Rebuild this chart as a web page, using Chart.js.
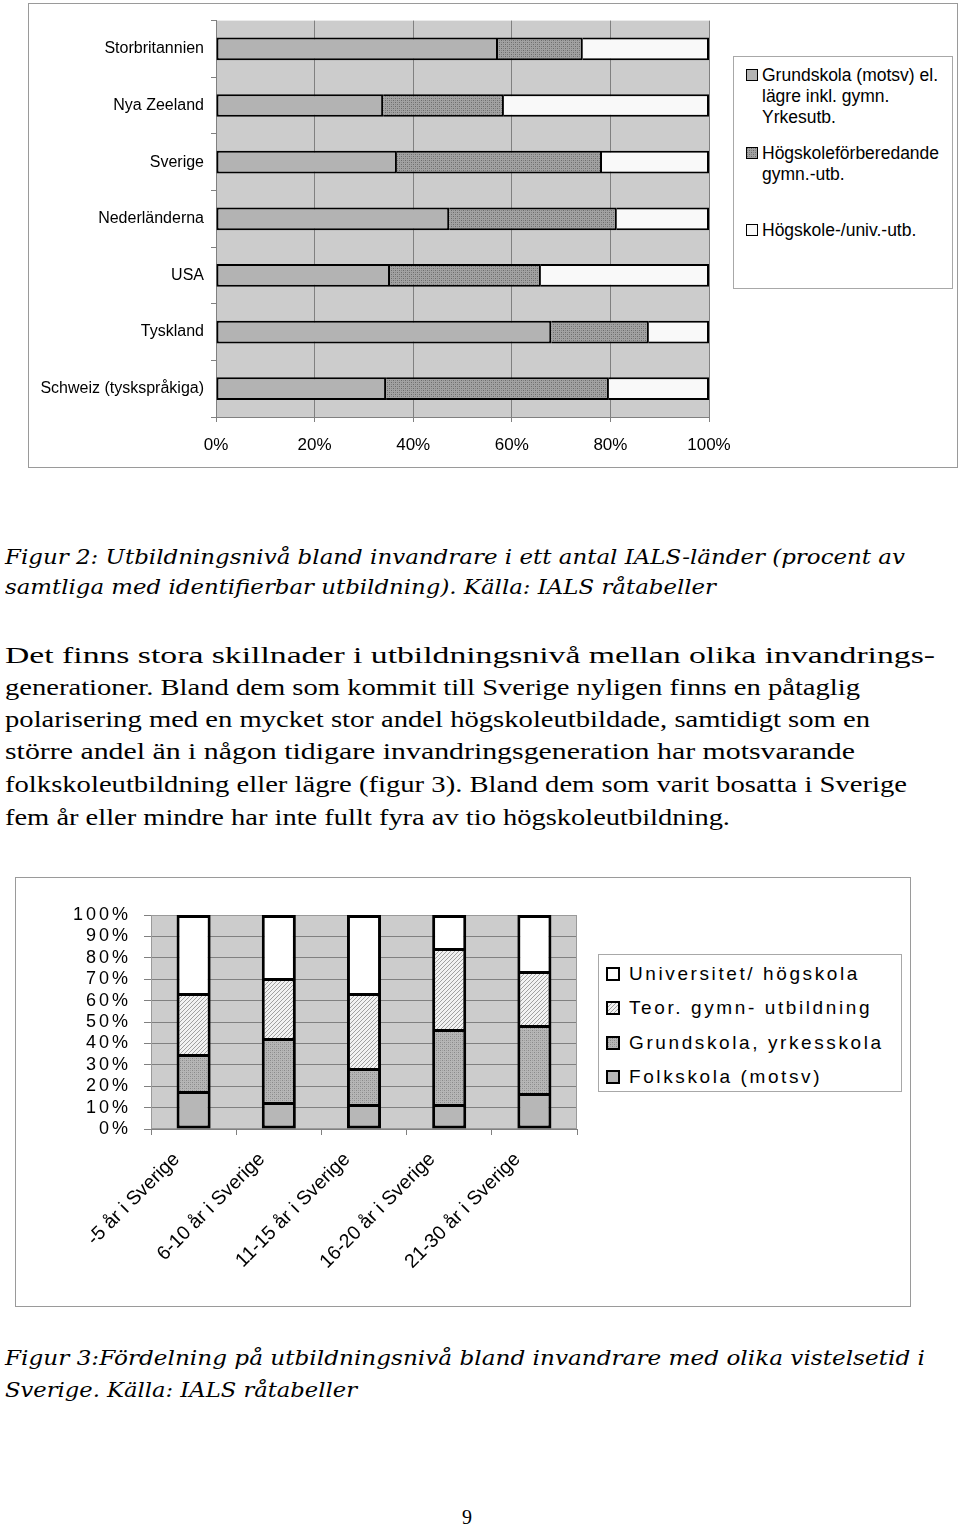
<!DOCTYPE html>
<html><head><meta charset="utf-8">
<script src="https://cdn.jsdelivr.net/npm/chart.js@4.4.1/dist/chart.umd.min.js"></script>
<style>
html,body{margin:0;padding:0;background:#fff;}
body{width:960px;height:1527px;position:relative;overflow:hidden;font-family:'Liberation Sans',Arial,sans-serif;color:#000;}
.frame{position:absolute;border:1px solid #9a9a9a;box-sizing:border-box;background:#fff;}
.frame canvas{position:absolute;left:0;top:0;}
.legend{position:absolute;border:1px solid #a8a8a8;box-sizing:border-box;background:#fff;}
.li{position:absolute;white-space:nowrap;}
.sw{position:absolute;box-sizing:border-box;border:1.5px solid #000;}
.tl{position:absolute;left:5px;white-space:nowrap;transform-origin:0 50%;}
.cap{font-family:'DejaVu Serif',serif;font-style:italic;font-size:20px;height:30px;line-height:30px;}
.txt{font-family:'Liberation Serif','Times New Roman',serif;font-size:23.5px;height:30px;line-height:30px;}
</style></head>
<body>
<div class="frame" id="f1" style="left:28px;top:3px;width:930px;height:465px;">
  <canvas id="c1" width="928" height="463" style="width:928px;height:463px"></canvas>
  <div class="legend" id="lg1" style="left:704px;top:52px;width:220px;height:233px;font-size:17.5px;line-height:21px;"></div>
</div>

<div class="tl cap" data-w="900" style="top:542px">Figur 2: Utbildningsnivå bland invandrare i ett antal IALS-länder (procent av</div>
<div class="tl cap" data-w="711" style="top:572px">samtliga med identifierbar utbildning). Källa: IALS råtabeller</div>

<div class="tl txt" data-w="930" style="top:640px">Det finns stora skillnader i utbildningsnivå mellan olika invandrings-</div>
<div class="tl txt" data-w="855" style="top:672px">generationer. Bland dem som kommit till Sverige nyligen finns en påtaglig</div>
<div class="tl txt" data-w="865" style="top:704px">polarisering med en mycket stor andel högskoleutbildade, samtidigt som en</div>
<div class="tl txt" data-w="850" style="top:736px">större andel än i någon tidigare invandringsgeneration har motsvarande</div>
<div class="tl txt" data-w="902" style="top:769px">folkskoleutbildning eller lägre (figur 3). Bland dem som varit bosatta i Sverige</div>
<div class="tl txt" data-w="725" style="top:802px">fem år eller mindre har inte fullt fyra av tio högskoleutbildning.</div>

<div class="frame" id="f2" style="left:15px;top:877px;width:896px;height:430px;">
  <canvas id="c2" width="894" height="428" style="width:894px;height:428px"></canvas>
  <div class="legend" id="lg2" style="left:582px;top:76px;width:304px;height:138px;font-size:19px;letter-spacing:2.6px;line-height:24px;"></div>
</div>

<div class="tl cap" data-w="920" style="top:1343px">Figur 3:Fördelning på utbildningsnivå bland invandrare med olika vistelsetid i</div>
<div class="tl cap" data-w="352" style="top:1375px">Sverige. Källa: IALS råtabeller</div>

<div style="position:absolute;left:0;width:934px;top:1504px;text-align:center;font-family:'Liberation Serif',serif;font-size:20px;line-height:26px;">9</div>

<script>
// ---------- Figure 2 data ----------
const countries = ['Storbritannien','Nya Zeeland','Sverige','Nederländerna','USA','Tyskland','Schweiz (tyskspråkiga)'];
const grundskolaTop = [57.2, 33.9, 36.7, 47.3, 35.3, 68.0, 34.5];
const hogskoleforb = [17.2, 24.5, 41.6, 34.0, 30.6, 19.8, 45.2];
const hogskoleUniv = [25.6, 41.6, 21.7, 18.7, 34.1, 12.2, 20.3];
const topTickLabels = ['0%','20%','40%','60%','80%','100%'];
const topSeriesNames = [['Grundskola (motsv) el.','lägre inkl. gymn.','Yrkesutb.'],['Högskoleförberedande','gymn.-utb.'],['Högskole-/univ.-utb.']];

// ---------- Figure 3 data ----------
const vistelse = ['-5 år i Sverige','6-10 år i Sverige','11-15 år i Sverige','16-20 år i Sverige','21-30 år i Sverige'];
const folkskola = [17.8, 12.6, 11.7, 11.7, 16.8];
const grundYrkes = [17.2, 29.9, 16.8, 35.0, 31.8];
const teorGymn = [28.5, 28.1, 35.0, 37.9, 25.2];
const universitet = [36.5, 29.4, 36.5, 15.4, 26.2];
const bottomTickLabels = ['0%','10%','20%','30%','40%','50%','60%','70%','80%','90%','100%'];
const bottomSeriesNames = ['Universitet/ högskola','Teor. gymn- utbildning','Grundskola, yrkesskola','Folkskola (motsv)'];

Chart.defaults.font.family = "'Liberation Sans', Arial, sans-serif";
Chart.defaults.color = '#000';
Chart.defaults.animation = false;

function makePattern(size, bg, draw){
  const c = document.createElement('canvas'); c.width = size; c.height = size;
  const x = c.getContext('2d'); x.fillStyle = bg; x.fillRect(0,0,size,size); draw(x); return c;
}
const stippleDark = makePattern(4, '#a2a2a2', x=>{x.fillStyle='#6c6c6c'; x.fillRect(0,0,1,1); x.fillRect(2,2,1,1); x.fillStyle='#858585'; x.fillRect(2,0,1,1); x.fillRect(0,2,1,1);});
const stippleMid = makePattern(4, '#b6b6b6', x=>{x.fillStyle='#8a8a8a'; x.fillRect(0,0,1,1); x.fillRect(2,2,1,1); x.fillStyle='#a0a0a0'; x.fillRect(2,0,1,1); x.fillRect(0,2,1,1);});
const hatch = makePattern(4, '#f2f2f2', x=>{x.fillStyle='#a0a0a0'; for(let i=0;i<4;i++){x.fillRect(i,3-i,1,1);} });
const ctxTmp = document.createElement('canvas').getContext('2d');
const patDark = ctxTmp.createPattern(stippleDark,'repeat');
const patMid = ctxTmp.createPattern(stippleMid,'repeat');
const patHatch = ctxTmp.createPattern(hatch,'repeat');

const plotBg = {
  id:'plotBg',
  beforeDraw(chart, args, opts){
    const {ctx, chartArea:a} = chart; ctx.save();
    ctx.fillStyle = opts.color; ctx.fillRect(a.left, a.top, a.right-a.left, a.bottom-a.top);
    ctx.restore();
  },
  beforeDatasetsDraw(chart, args, opts){
    if(!opts.border) return;
    const {ctx, chartArea:a} = chart; ctx.save();
    ctx.strokeStyle = opts.border; ctx.lineWidth = 1;
    ctx.strokeRect(a.left+0.5, a.top+0.5, a.right-a.left-1, a.bottom-a.top-1);
    ctx.restore();
  }
};

// ---------- Chart 1 ----------
const bw1 = 2;
new Chart(document.getElementById('c1'), {
  type:'bar',
  data:{labels:countries, datasets:[
    {label:topSeriesNames[0].join(' '), data:grundskolaTop, backgroundColor:'#b3b3b3', borderWidth:bw1},
    {label:topSeriesNames[1].join(' '), data:hogskoleforb, backgroundColor:patDark, borderWidth:{top:bw1,bottom:bw1,right:bw1,left:0}},
    {label:topSeriesNames[2].join(' '), data:hogskoleUniv, backgroundColor:'#f9f9f9', borderWidth:{top:bw1,bottom:bw1,right:bw1,left:0}}
  ].map(d=>Object.assign(d,{borderColor:'#000', borderSkipped:false, barPercentage:0.8, categoryPercentage:0.5}))},
  options:{
    indexAxis:'y', responsive:false, maintainAspectRatio:false,
    layout:{padding:{left:0, top:15, right:248, bottom:0}},
    plugins:{legend:{display:false}, tooltip:{enabled:false}, plotBg:{color:'#cccccc'}},
    scales:{
      x:{stacked:true, min:0, max:100,
         ticks:{stepSize:20, padding:13, font:{size:17}, callback:(v,i)=>topTickLabels[i]},
         grid:{color:'#808080', lineWidth:1, tickLength:5},
         border:{color:'#808080'},
         afterFit:s=>{s.height=50;}},
      y:{stacked:true,
         ticks:{padding:7, font:{size:16}},
         grid:{drawOnChartArea:false, color:'#808080', tickLength:5},
         border:{color:'#808080'},
         afterFit:s=>{s.width=187;}}
    }
  },
  plugins:[plotBg]
});

// ---------- Chart 2 ----------
const yLabelPlugin = {
  id:'yLabelPlugin',
  afterDraw(chart){
    const ctx = chart.ctx, ys = chart.scales.y;
    ctx.save();
    ctx.font = "18px 'Liberation Sans', Arial, sans-serif";
    ctx.letterSpacing = '3px';
    ctx.fillStyle = '#000'; ctx.textAlign = 'right'; ctx.textBaseline = 'middle';
    ys.ticks.forEach((t,i)=>{ ctx.fillText(bottomTickLabels[i], chart.chartArea.left - 20, ys.getPixelForValue(t.value)); });
    ctx.restore();
  }
};
const bw2 = 3;
new Chart(document.getElementById('c2'), {
  type:'bar',
  data:{labels:vistelse, datasets:[
    {label:bottomSeriesNames[3], data:folkskola, backgroundColor:'#b7b7b7', borderWidth:bw2},
    {label:bottomSeriesNames[2], data:grundYrkes, backgroundColor:patMid, borderWidth:{top:bw2,left:bw2,right:bw2,bottom:0}},
    {label:bottomSeriesNames[1], data:teorGymn, backgroundColor:patHatch, borderWidth:{top:bw2,left:bw2,right:bw2,bottom:0}},
    {label:bottomSeriesNames[0], data:universitet, backgroundColor:'#ffffff', borderWidth:{top:bw2,left:bw2,right:bw2,bottom:0}}
  ].map(d=>Object.assign(d,{borderColor:'#000', borderSkipped:false, barPercentage:0.8, categoryPercentage:0.5}))},
  options:{
    responsive:false, maintainAspectRatio:false,
    layout:{padding:{left:0, top:37, right:333, bottom:0}},
    plugins:{legend:{display:false}, tooltip:{enabled:false}, plotBg:{color:'#cccccc', border:'#9a9a9a'}},
    scales:{
      x:{stacked:true,
         ticks:{autoSkip:false, minRotation:45, maxRotation:45, padding:13, labelOffset:-17, font:{size:19.5}},
         grid:{drawOnChartArea:false, color:'#808080', tickLength:6},
         border:{color:'#808080'},
         afterFit:s=>{s.height=177;}},
      y:{stacked:true, min:0, max:100,
         ticks:{stepSize:10, display:false},
         grid:{color:'#808080', lineWidth:1, tickLength:7},
         border:{color:'#808080'},
         afterFit:s=>{s.width=135;}}
    }
  },
  plugins:[plotBg, yLabelPlugin]
});

// ---------- HTML legends ----------
function swatchStyle(fill){
  if(typeof fill === 'string') return 'background:'+fill+';';
  return 'background-image:url('+fill.toDataURL()+');';
}
const lg1 = document.getElementById('lg1');
const topFills = ['#b3b3b3', stippleDark, '#f9f9f9'];
const topGroupTop = [8, 86, 163];
topSeriesNames.forEach((lines,i)=>{
  lg1.insertAdjacentHTML('beforeend',
    '<div class="sw" style="left:12px;top:'+(topGroupTop[i]+4)+'px;width:12px;height:12px;'+swatchStyle(topFills[i])+'"></div>'+
    '<div class="li" style="left:28px;top:'+topGroupTop[i]+'px;">'+lines.join('<br>')+'</div>');
});
const lg2 = document.getElementById('lg2');
const botFills = ['#ffffff', hatch, stippleMid, '#b7b7b7'];
const botCenters = [19, 53, 88, 122];
bottomSeriesNames.forEach((name,i)=>{
  lg2.insertAdjacentHTML('beforeend',
    '<div class="sw" style="left:7px;top:'+(botCenters[i]-7)+'px;width:14px;height:14px;border-width:2px;'+swatchStyle(botFills[i])+'"></div>'+
    '<div class="li" style="left:30px;top:'+(botCenters[i]-12)+'px;">'+name+'</div>');
});

// ---------- fit text lines to reference widths ----------
document.querySelectorAll('.tl').forEach(el=>{
  el.style.display='inline-block';
  const w = el.getBoundingClientRect().width;
  const target = +el.dataset.w;
  el.style.transform = 'scaleX('+(target/w)+')';
});
</script>
</body></html>
